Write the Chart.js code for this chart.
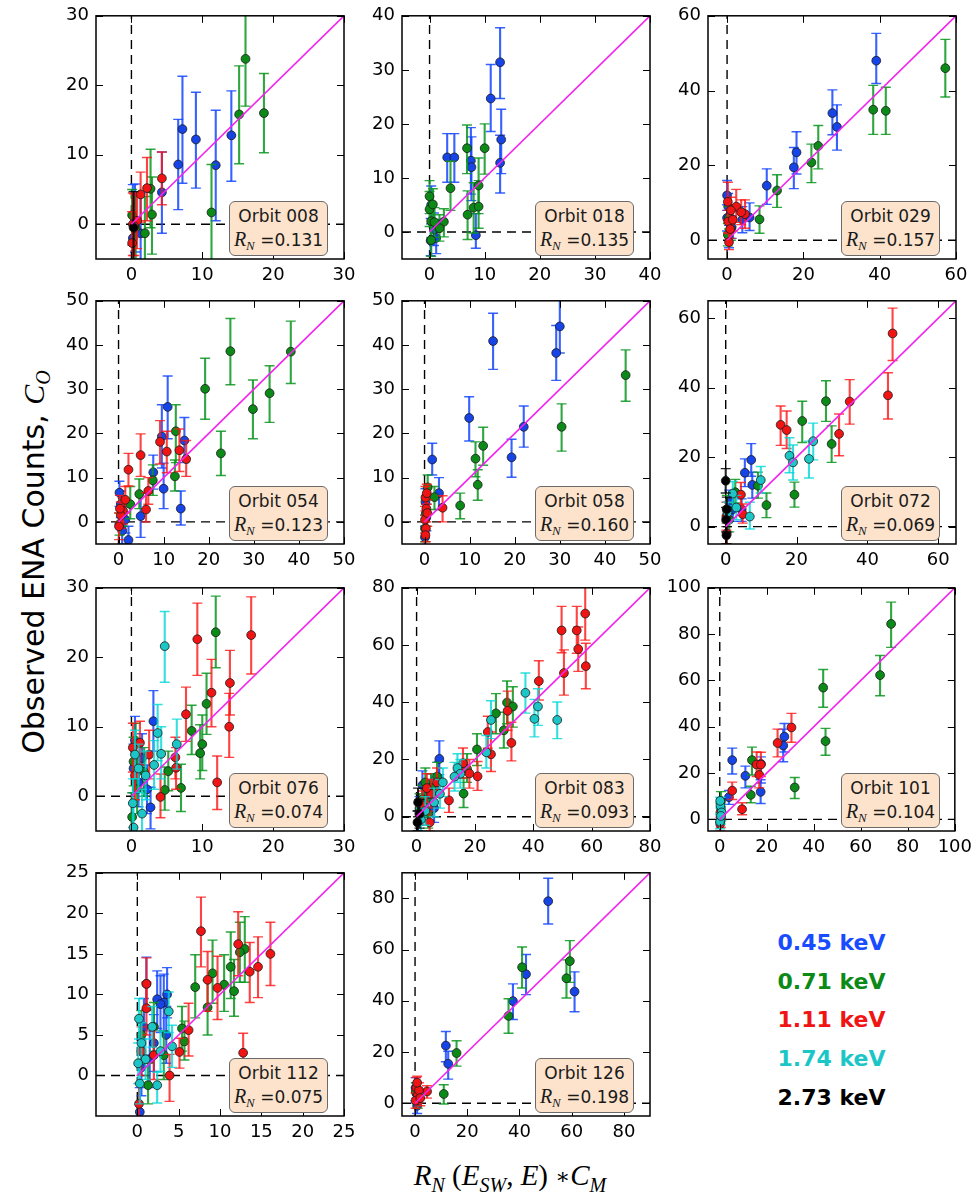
<!DOCTYPE html>
<html>
<head>
<meta charset="utf-8">
<script src="https://cdn.jsdelivr.net/npm/chart.js@4.4.1/dist/chart.umd.min.js"></script>
<style>
  body { margin: 0; background: #fff; }
  #fig { position: relative; width: 975px; height: 1194px; overflow: hidden; font-family: "DejaVu Sans", sans-serif; }
  #fig canvas { position: absolute; }
  .box { position: absolute; width: 99px; height: 55px; box-sizing: border-box; border: 1.4px solid #6a6a6a; border-radius: 6px;
         background: #fde3cc; text-align: center; font-size: 17px; color: #1a1a1a; line-height: 23px; padding-top: 3px; }
  .m { font-family: "Liberation Serif", serif; font-style: italic; }
  .box .m { font-size: 20px; }
  .box sub { font-size: 13px; vertical-align: -4px; }
  .leg { position: absolute; left: 708px; width: 247px; text-align: center; font-weight: bold; font-size: 22px; line-height: 26px; }
  #ylab { position: absolute; left: 35px; top: 562px; white-space: nowrap; font-size: 30px; transform: translate(-50%, -50%) rotate(-90deg); }
  #ylab sub { font-size: 20px; vertical-align: -6px; }
  #xlab { position: absolute; left: 510px; top: 1178px; white-space: nowrap; font-size: 29px; transform: translate(-50%, -50%); }
  #xlab sub { font-size: 20px; vertical-align: -7px; }
  #xlab .up { font-style: normal; }
  #xlab .ast { font-style: normal; font-family: "DejaVu Serif", serif; font-size: 22px; vertical-align: 1px; }
</style>
</head>
<body>
<div id="fig">
  <div id="ylab">Observed ENA Counts, <span class="m">C<sub>O</sub></span></div>
  <div id="xlab" class="m">R<sub>N</sub> <span class="up">(</span>E<sub>SW</sub><span class="up">,</span> E<span class="up">)</span> <span class="ast">∗</span>C<sub>M</sub></div>
</div>
<script>
// energies and colours
const energies = ['0.45 keV', '0.71 keV', '1.11 keV', '1.74 keV', '2.73 keV'];
const markerColors = ['#1744e6', '#0c8a18', '#f01414', '#1cc6c6', '#000000'];
const legendColors = ['#1a4cff', '#0c8a18', '#f01414', '#1cc6c6', '#000000'];
const barColors = ['rgba(20,70,255,0.85)', 'rgba(10,150,30,0.85)', 'rgba(255,20,20,0.8)', 'rgba(0,215,215,0.8)', 'rgba(0,0,0,0.85)'];
const legendY = [943, 982, 1020, 1059, 1098];

const orbits = ['008', '018', '029', '054', '058', '072', '076', '083', '101', '112', '126'];
const rnValues = ['0.131', '0.135', '0.157', '0.123', '0.160', '0.069', '0.074', '0.093', '0.104', '0.075', '0.198'];
const axisMin = -5;
const axisMax = [30, 40, 60, 50, 50, 65, 30, 80, 100, 25, 90];
const ticks008 = [0, 10, 20, 30];
const ticks018 = [0, 10, 20, 30, 40];
const ticks029 = [0, 20, 40, 60];
const ticks054 = [0, 10, 20, 30, 40, 50];
const ticks058 = [0, 10, 20, 30, 40, 50];
const ticks072 = [0, 20, 40, 60];
const ticks076 = [0, 10, 20, 30];
const ticks083 = [0, 20, 40, 60, 80];
const ticks101 = [0, 20, 40, 60, 80, 100];
const ticks112 = [0, 5, 10, 15, 20, 25];
const ticks126 = [0, 20, 40, 60, 80];

// points: [model, observed, errLow, errHigh]
const o008_045 = [[7.2,13.7,5.9,21.3],[6.6,8.6,2.1,15.1],[9.1,12.2,5.2,19.0],[11.9,8.5,0.5,16.4],[14.1,12.8,6.2,19.2],[4.3,4.6,-1.3,10.4],[0.2,-2.0,-6,5.7],[1.3,-1.3,-6,4.5],[0.5,0.5,-4,5.8]];
const o008_071 = [[16.1,23.8,17.0,31],[15.2,15.8,8.7,22.8],[18.7,16.0,10.3,21.7],[11.3,1.7,-6,8.6],[2.7,5.1,-0.5,10.8],[2.9,1.4,-4.3,6.8],[1.9,-1.3,-6,4.0],[0.1,1.3,-3,5.0],[0.6,-0.5,-5,4]];
const o008_111 = [[4.3,6.6,2.8,10.4],[2.2,5.2,0.5,9.6],[1.3,4.3,0.3,7.5],[0.2,0.0,-4.5,4.5],[0.1,-2.7,-6,1.8],[0.8,0.5,-3.5,4.2],[0.4,-0.3,-4.5,4.4]];
const o008_273 = [[0.3,-0.5,-6,4.7]];

const o018_045 = [[12.8,31.4,24.7,37.8],[11.1,24.7,18.6,31],[13,17.1,10.8,22.7],[12.8,12.8,7.2,17.9],[3.2,13.8,9.2,18.2],[4.5,13.8,9.2,18.2],[7.5,13.2,7,19.3],[7.6,12,5.8,17.6],[8.4,-0.6,-3,3.4],[0.2,-1.6,-4.4,2.5],[1.2,-1.1,-4,2.3],[0.3,5,1.5,8.5],[0.8,0.5,-2.5,3.5]];
const o018_071 = [[6.8,15.5,10.8,19.8],[10,15.5,10.7,20],[3.8,8.1,4,13.1],[8.9,8.6,3.4,13.7],[6.9,3.2,-1.4,7.6],[8,4.5,-0.2,9.1],[8.9,4.7,0.7,9.5],[2.6,1.9,-0.9,4.3],[1.8,0.7,-1.7,3.2],[0,6.6,3.4,9.5],[0,4.2,1,7.5],[0.3,2,-1,5],[0.6,5.1,2,8],[0.3,-1.5,-4.5,1.5],[0.9,1.8,-1,4.5]];

const o029_045 = [[39.1,48,41.9,55.3],[27.6,34,28.2,40.2],[28.8,30.3,24.1,36.2],[18.2,23.5,17.7,29],[17.5,19.5,13.8,24.8],[10.4,14.6,9.6,19.1],[5.9,6.1,2.6,10],[4,5.5,2,9],[0,12,8,16],[0.3,9,5.5,12.5],[0,6,2.5,9.5],[0.5,1,-2,4],[1.2,3.5,0.5,6.5]];
const o029_071 = [[57.2,46,38.3,53.7],[38.3,34.9,28.3,41.4],[41.6,34.6,28.3,40.9],[23.9,25.2,19.1,30.7],[22.1,20.8,15.4,25.7],[13.1,13.3,8.8,17.5],[8.5,5.6,1.9,9.2],[0.2,1.5,-1.5,4.5],[1,3,0,6],[0.5,6,3,9]];
const o029_111 = [[2.4,9,4.8,13.6],[4.7,7,3.2,10.8],[3.7,7.5,4.2,10.8],[0.2,10.3,5.5,15.5],[0.3,5,2,8],[1,8,4.5,11.5],[0.5,-0.5,-2.5,1.8],[1.5,5.5,2.5,8.5],[0.8,3,0.5,5.5]];

const o054_045 = [[10.9,26,18.8,33],[9.6,19.3,12.2,26.5],[14.6,18.4,13.4,23.6],[10,7.5,3,13.3],[13.8,3,-0.7,7],[7.7,11.2,7.4,15.1],[4.9,1.3,-3.5,6.6],[2.2,-4.1,-6,-1],[0.2,6.6,3.5,9.2],[0.5,4,1,7],[1.5,0.5,-2.5,3.5],[0.8,-2,-5,1]];
const o054_071 = [[24.8,38.6,31,46],[38.2,38.5,31.3,45.4],[19.2,30.1,23.2,37],[29.8,25.5,18.8,32.1],[33.5,29.1,22.5,35.3],[22.7,15.5,10.5,20.5],[12.7,20.5,13.4,26.5],[12.5,10.3,7,14],[7.6,9.4,6,12.9],[4.6,6.3,3,9.7],[2.6,4,0.7,8],[0.2,-0.5,-3,2],[1,2,-1,5]];
const o054_111 = [[9.2,18.1,13.1,22.9],[10.7,15.9,11.1,20.5],[13.5,16.2,11.4,21],[15,14.2,10.3,18.4],[4.9,15.1,10.3,19.9],[2.2,11.8,8.1,15.5],[6.1,2.8,0,6.6],[6.6,7,4,10],[1,2.5,-0.5,5.5],[0.5,1.5,-1.5,4.5],[0.1,-1,-4,2],[1.5,5,2,8],[0.3,3,0,6]];

const o058_045 = [[15.2,40.9,34.5,47.2],[29.2,38.2,32,44.4],[30,44.2,38.2,51],[9.9,23.5,18.3,28.3],[22,21.5,16.9,26.2],[19.3,14.6,10.1,18.7],[1.7,14.1,10.6,17.8],[3.2,6.5,2.8,10],[0.2,4.5,1.5,7.5],[0.1,-3.5,-6,-1],[0.4,1,-2,4]];
const o058_071 = [[44.6,33.2,27.3,38.9],[30.4,21.5,16,26.7],[13,17.2,12.8,21.4],[11.3,14.3,10.2,18.1],[11.8,8.4,4.9,11.8],[7.9,3.7,0.7,6.5],[2.2,5.6,2.8,8],[0.7,7.8,5,10.6],[0.3,2,-1,5],[0.1,-1.5,-4.5,1.5]];
const o058_111 = [[4,3.2,0,5.9],[0.2,5.5,2.5,8],[0.4,3,0,6],[0.1,0.5,-2.5,3.5],[0.3,-1.5,-4.5,1.5],[0.6,2,-1,5],[0.2,-3,-6,0],[0.5,6.5,4,8.5]];

const o072_045 = [[7.2,19.2,14.5,23.9],[5.4,15.5,11.5,19.5],[7.5,12,8.2,15.7],[1,7,3.5,10.5],[2,5,1.5,8.5],[4.5,5,1.5,8],[0.5,2,-1.5,5.5]];
const o072_071 = [[28.3,36.1,30.3,42],[21.6,30.4,24.2,36.1],[29.9,23.8,18.5,29],[19.4,9.2,5.6,12.8],[11.5,6.2,2.6,9.7],[9.1,11.8,8.2,15.7],[2.7,9.9,6.8,13.6],[0.3,5,1,9],[1,2,-1.5,5.5]];
const o072_111 = [[47.1,55.6,47.8,62.9],[45.8,37.8,31,44.3],[35,36,29.5,42.3],[32,26.7,20.4,32.4],[15.5,29.3,23.4,34.7],[17.2,27.8,22.5,33.3],[4.3,9.2,5.7,12.7],[4.8,3.6,1,6.5],[0.2,3,-1,7],[0.3,-2,-5,1]];
const o072_174 = [[18,20.4,15.5,25.6],[19,18.5,13.4,23.5],[23.5,19.5,14,24.6],[24.7,24.6,19.2,29.8],[9.9,13.4,9.7,17.3],[6.8,2.9,-0.7,7],[2,9.5,6,13],[0.5,4,1,7],[3,5.5,2,9]];
const o072_273 = [[0,13.2,9.7,16.7],[0.2,-2.5,-5,0],[0.3,5,1.5,8.5],[0.1,2,-1.5,5.5]];

const o076_045 = [[3.1,10.8,6.5,15.2],[2.7,-1.6,-4.7,1.3],[1,2,-1.5,5.5],[0.3,4,0.5,7.5],[1.5,5.5,2,9],[0.5,8,4.5,11.5],[2.2,1,-2.5,4.5]];
const o076_071 = [[11.9,23.6,18.5,28.8],[10.6,13.3,8.9,17.7],[8.5,9.4,6,13.1],[10,7.5,3.7,11.7],[9.7,6.2,2.5,10.3],[5.2,3.6,0.8,6.5],[7,1.2,-2.2,4.6],[4.7,0.9,-2,4.2],[0.3,5,1.5,8.5],[0.8,1,-2.5,4.5],[1.8,3.5,0,7],[0.1,-3,-6,0.5],[0.6,7.5,4,10.5]];
const o076_111 = [[9.3,22.6,17.4,27.8],[16.9,23.2,17.6,28.7],[11.3,14.9,10,19.7],[13.9,16.3,11.7,21],[13.8,10,5.6,14.8],[7.7,11.8,7.9,15.7],[12.1,2,-1.9,5.8],[4.1,-0.1,-3.1,3.2],[6.2,5.6,2.5,8.5],[6.3,4.1,1,7],[1.2,7.7,4.5,10.8],[0.5,3,-0.5,6.5],[2.5,6,2.5,9.5],[0.2,7,3.5,10.5]];
const o076_174 = [[4.7,21.6,16.4,26.6],[3.7,9.1,5.1,13.2],[4.2,6.1,2.5,10],[6.4,7.5,3.9,11.1],[3.2,4.5,1,8],[0.2,-1,-4.5,2.5],[1,4,0.5,7.5],[2,3,-0.5,6.5],[0.5,6,2.5,9.5],[1.5,-2.5,-6,1],[0.3,-4.5,-6,-1]];

const o083_045 = [[7.8,20.2,14.7,26.5],[7.6,13.5,8.4,19.3],[5,10,5,15],[3,6,1,11],[1,2,-3,7],[2,11,6,16],[6,3,-2,8],[0.5,-2,-5,2],[4,8,3,13]];
const o083_071 = [[31,39.9,32.5,47.4],[33,38.5,31.3,45.4],[27.2,36.1,29,43],[29.9,30.2,24,36.5],[20.7,23.5,17.9,29],[16.1,8.1,3.2,13.5],[17.3,16.7,12,22],[3,12,7,17],[5,10,5,15],[2,6,1,11],[7,14,9,19],[1,3,-2,8],[4,1,-4,6]];
const o083_111 = [[57.8,71,61.7,81],[49.7,65.1,57.3,73.5],[54.9,65.1,57.1,73.5],[55.4,58.6,50.8,66.3],[58,52.6,44.7,60.6],[50.5,50.2,42.5,58.3],[41.9,47.4,40.8,54.5],[31.2,37,30.2,43.9],[32.5,25.8,19.5,33],[25.5,21.8,15.8,29.6],[24.4,29.6,23.9,35.1],[20.9,14.1,9.2,19.3],[18.1,15.1,10,20],[15.9,18.7,13.5,24],[11.1,5.7,1.5,10],[5,8,3,13],[2,4,-1,9],[3.5,10,5,15],[7,12,7,17],[1,1,-3,5],[4.5,-2,-5,2]];
const o083_174 = [[37.3,43.3,36.2,50.2],[41.6,38.5,31.9,44.7],[40.4,34.2,27.9,41],[48.2,33.8,27.3,40.1],[25.5,33.8,27.3,40.5],[23.9,22.5,17,28.4],[14,17,12,22],[15,15,10,20],[13,14,9,19],[8,8,3,13],[6,5,0,10],[3,2,-3,7],[9,12,7,17],[1.5,-1,-5,3]];
const o083_273 = [[0.5,5,0,10],[1,1,-4,6],[0.3,-2,-5,2]];

const o101_045 = [[27.5,35.7,29.1,41.4],[27,31.9,24.9,39],[17.5,24,15.7,27],[5.3,25.6,19.6,30.8],[10.9,18.8,13.6,23],[17.4,11.9,6.9,17.1],[3.9,9.6,6.5,12.5],[0.5,5,1,9]];
const o101_071 = [[72.9,84.4,74.3,93.8],[68.2,62.3,53.4,70.8],[44,56.9,48.4,64.7],[45,33.8,27.7,39.3],[31.9,13.8,9,18.1],[13.7,25.6,19.2,31.2],[13.2,10.6,7.2,14.3],[0.5,8,4,12],[0.3,3,-1,7]];
const o101_111 = [[30.5,39.7,33.3,45.8],[24.6,33,27,39],[15.7,23.7,18.5,29.1],[17.5,23.7,18.5,29],[16.8,19.2,13.6,24.9],[5.3,12.4,8.6,16.1],[9.5,4.4,2,7.2],[0.5,0,-3.5,3.5],[0.2,-2,-5,1]];
const o101_174 = [[0.3,6,2.5,9.5],[0.8,3,-0.5,6.5],[0.1,-1,-4,2],[0.5,1.5,-2,5],[0.2,8,5,9.5]];

const o112_045 = [[3.6,10,7.1,13.3],[2.4,9.4,5.8,12.9],[1.1,11.3,8.1,14.6],[3.2,9,5.5,12.5],[2.8,8.8,5.3,12.3],[0.8,6,2.5,9.5],[0.3,-4.5,-6,-1.5],[2,4,0.5,7.5],[3.5,5,1.5,8.5],[1.5,2,-1.5,5.5],[0.5,1,-2.5,4.5]];
const o112_071 = [[13,15.6,11.5,19.6],[12.4,15.2,11.5,18.9],[11.3,13.4,9.5,17.7],[11.7,10.4,7.3,14.3],[10.5,11.2,7.9,14.9],[9.1,12.6,8.9,16.7],[7,10.9,7.1,14.9],[8.5,8.4,5,11.7],[5.4,5.8,3,8.5],[5.7,4.2,1.9,6.7],[1.3,-1.2,-3.5,1.5],[0.5,5,2,8],[2,6,3,9],[3.2,2.5,-0.5,5.5]];
const o112_111 = [[16.1,15,11.1,18.9],[14.6,13.4,9.6,17.1],[13.6,12.8,9,16.4],[12.2,16.2,12.3,20.2],[9.7,10.8,6.9,14.7],[8.5,11.8,7.9,15.3],[7.7,17.8,13.4,22],[12.8,2.8,0.6,5.2],[6.2,5.6,2.4,8.9],[5.1,2.9,0.9,4.6],[3.9,0,-3.2,2.6],[1.1,8.3,5,11.5],[1.1,11.3,8,14.5],[0.2,-3.5,-5.5,-1],[0.5,3,0,6],[2,2.5,-0.5,5.5]];
const o112_174 = [[3.8,7.9,5.3,10.3],[4.2,3.6,1,6.2],[2.4,-1.2,-3.4,0.4],[0.2,7,4.5,9.5],[0.5,4,1.5,6.5],[1,2,-0.5,4.5],[1.8,6,3.5,8.5],[0.3,-1,-3.5,1.5],[2.8,3,0.5,5.5],[0.1,1.5,-1,4]];

const o126_045 = [[51,78.9,70,87.9],[61.1,43.6,35.7,51.3],[42.5,50.4,42.4,58.1],[37.5,39.9,32.7,46.6],[11.8,22.5,16.2,28],[12.7,15.4,9.4,20.3],[0.2,6,1,10],[0.5,4,0,8],[0.8,-1,-4,3]];
const o126_071 = [[59.3,55.5,47.2,63.5],[58,48.8,41.1,56],[41,53.1,45,61],[35.8,34.1,27.3,40.8],[15.9,19.6,14.5,24.4],[11,3.6,-0.3,7.2],[0.3,4.5,1,8],[1,1,-2,4]];
const o126_111 = [[4.6,4.6,2,6.8],[0.5,6,2,10],[1,3,0,6],[0.2,1,-2,4],[1.5,5,2,8],[0.8,8,5,10.5],[2,2,-1,5]];

const panelTicks = [ticks008, ticks018, ticks029, ticks054, ticks058, ticks072, ticks076, ticks083, ticks101, ticks112, ticks126];
const panelSeries = [
  [o008_045, o008_071, o008_111, null, o008_273],
  [o018_045, o018_071, null, null, null],
  [o029_045, o029_071, o029_111, null, null],
  [o054_045, o054_071, o054_111, null, null],
  [o058_045, o058_071, o058_111, null, null],
  [o072_045, o072_071, o072_111, o072_174, o072_273],
  [o076_045, o076_071, o076_111, o076_174, null],
  [o083_045, o083_071, o083_111, o083_174, o083_273],
  [o101_045, o101_071, o101_111, o101_174, null],
  [o112_045, o112_071, o112_111, o112_174, null],
  [o126_045, o126_071, o126_111, null, null]
];

// layout
const colLeft = [96, 402, 708];
const rowTop = [11, 296, 583, 868];
const SIZE = 248;
const PAD_L = 46, PAD_T = 13, PAD_R = 22, PAD_B = 34;
const fitColor = '#f224ee';
const tickFont = { family: 'DejaVu Sans', size: 18 };

const errorBars = {
  id: 'errorBars',
  beforeDatasetDraw(chart, args) {
    const ds = chart.data.datasets[args.index];
    if (!ds.err) return;
    const { ctx, chartArea: a, scales: { x, y } } = chart;
    ctx.save();
    ctx.beginPath();
    ctx.rect(a.left, a.top, a.width, a.height);
    ctx.clip();
    ctx.strokeStyle = ds.errColor;
    ds.err.forEach((e, i) => {
      const px = x.getPixelForValue(ds.data[i].x);
      const lo = y.getPixelForValue(e[0]);
      const hi = y.getPixelForValue(e[1]);
      ctx.lineWidth = 2.1;
      ctx.beginPath();
      ctx.moveTo(px, lo); ctx.lineTo(px, hi);
      ctx.stroke();
      ctx.lineWidth = 1.4;
      ctx.beginPath();
      ctx.moveTo(px - 5, lo); ctx.lineTo(px + 5, lo);
      ctx.moveTo(px - 5, hi); ctx.lineTo(px + 5, hi);
      ctx.stroke();
    });
    ctx.restore();
  }
};

const frame = {
  id: 'frame',
  afterDatasetsDraw(chart) {
    const { ctx, chartArea: a, scales: { x, y } } = chart;
    ctx.save();
    ctx.strokeStyle = '#000';
    ctx.lineWidth = 1;
    ctx.beginPath();
    x.ticks.forEach(t => {
      const px = Math.round(x.getPixelForValue(t.value)) + 0.5;
      ctx.moveTo(px, a.bottom); ctx.lineTo(px, a.bottom - 7);
      ctx.moveTo(px, a.top); ctx.lineTo(px, a.top + 7);
    });
    y.ticks.forEach(t => {
      const py = Math.round(y.getPixelForValue(t.value)) + 0.5;
      ctx.moveTo(a.left, py); ctx.lineTo(a.left + 7, py);
      ctx.moveTo(a.right, py); ctx.lineTo(a.right - 7, py);
    });
    ctx.stroke();
    ctx.lineWidth = 1.5;
    ctx.strokeRect(a.left, a.top, a.width, a.height);
    ctx.restore();
  }
};

const fig = document.getElementById('fig');

function makePanel(i) {
  const col = i % 3, row = Math.floor(i / 3);
  const left = colLeft[col], top = rowTop[row];
  const max = axisMax[i];
  const cv = document.createElement('canvas');
  cv.width = PAD_L + SIZE + PAD_R;
  cv.height = PAD_T + SIZE + PAD_B;
  cv.style.left = (left - PAD_L) + 'px';
  cv.style.top = (top - PAD_T) + 'px';
  fig.appendChild(cv);

  const datasets = [];
  datasets.push({ type: 'line', data: [{ x: 0, y: 0 }, { x: max, y: max }], borderColor: fitColor, borderWidth: 1.6, pointRadius: 0, showLine: true });
  for (let k = 4; k >= 0; k--) {
    const s = panelSeries[i][k];
    if (!s) continue;
    datasets.push({
      label: energies[k],
      data: s.map(p => ({ x: p[0], y: p[1] })),
      err: s.map(p => [p[2], p[3]]),
      errColor: barColors[k],
      backgroundColor: markerColors[k],
      borderColor: '#1b1b1b',
      borderWidth: 0.8,
      pointRadius: 4.4
    });
  }
  datasets.push({ type: 'line', data: [{ x: 0, y: axisMin }, { x: 0, y: max }], borderColor: '#000', borderWidth: 1.4, borderDash: [9, 6], pointRadius: 0, showLine: true });
  datasets.push({ type: 'line', data: [{ x: axisMin, y: 0 }, { x: max, y: 0 }], borderColor: '#000', borderWidth: 1.4, borderDash: [9, 6], pointRadius: 0, showLine: true });

  const ticks = panelTicks[i];
  new Chart(cv, {
    type: 'scatter',
    data: { datasets },
    options: {
      responsive: false,
      animation: false,
      devicePixelRatio: 1,
      layout: { padding: { top: PAD_T, right: PAD_R, left: 0, bottom: 0 } },
      plugins: { legend: { display: false }, tooltip: { enabled: false } },
      scales: {
        x: {
          type: 'linear', min: axisMin, max: max,
          grid: { display: false, drawTicks: false }, border: { display: false },
          ticks: { padding: 6, color: '#000', font: tickFont },
          afterBuildTicks: s => { s.ticks = ticks.map(v => ({ value: v })); },
          afterFit: s => { s.height = PAD_B; }
        },
        y: {
          type: 'linear', min: axisMin, max: max,
          grid: { display: false, drawTicks: false }, border: { display: false },
          ticks: { padding: 7, color: '#000', font: tickFont },
          afterBuildTicks: s => { s.ticks = ticks.map(v => ({ value: v })); },
          afterFit: s => { s.width = PAD_L; }
        }
      }
    },
    plugins: [errorBars, frame]
  });

  const box = document.createElement('div');
  box.className = 'box';
  box.style.left = (left + SIZE - 16 - 99) + 'px';
  box.style.top = (top + SIZE - 3 - 55) + 'px';
  box.innerHTML = 'Orbit ' + orbits[i] + '<br><span class="m">R<sub>N</sub></span> =' + rnValues[i];
  fig.appendChild(box);
}

orbits.forEach((o, i) => makePanel(i));

energies.forEach((e, k) => {
  const d = document.createElement('div');
  d.className = 'leg';
  d.style.top = (legendY[k] - 13) + 'px';
  d.style.color = legendColors[k];
  d.textContent = e;
  fig.appendChild(d);
});
</script>
</body>
</html>
